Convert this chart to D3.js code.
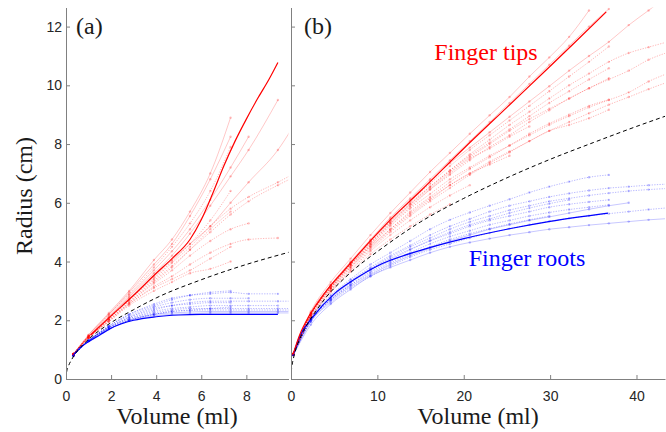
<!DOCTYPE html>
<html>
<head>
<meta charset="utf-8">
<script src="https://cdn.jsdelivr.net/npm/d3@7"></script>
<style>
  body { margin: 0; background: #fff; }
</style>
</head>
<body>
<script>
// ---- panel (a) data ----
var aGridX = [0.33, 1.0, 1.9, 2.8, 3.9, 4.7, 5.5, 6.4, 7.3, 8.1, 9.4, 10.6];

var aTipX = [1.1, 2, 3, 4, 4.7, 5.5, 6, 6.5, 7, 7.5, 8, 8.5, 9, 9.4];
var aTipY = [1.5, 2.15, 2.85, 3.6, 4.1, 4.75, 5.42, 6.3, 7.25, 8.1, 8.85, 9.55, 10.2, 10.78];

var aRootX = [0.33, 0.6, 1.0, 1.5, 2.0, 3.0, 4.0, 5.0, 6.0, 7.0, 8.0, 9.4];
var aRootY = [0.82, 1.05, 1.27, 1.5, 1.73, 2.0, 2.12, 2.18, 2.2, 2.2, 2.2, 2.2];

var aTipsFaint = [
  [0.85, 1.5, 2.25, 3.0, 4.05, 4.75, 5.7, 7.0, 8.9],
  [0.85, 1.5, 2.2, 2.95, 3.9, 4.6, 5.55, 6.8, 8.25],
  [0.85, 1.45, 2.2, 2.9, 3.8, 4.5, 5.3, 6.4, 7.9],
  [0.85, 1.45, 2.15, 2.85, 3.7, 4.35, 5.1, 6.1, 7.2, 8.25],
  [0.85, 1.45, 2.1, 2.8, 3.6, 4.2, 4.95, 5.9, 6.9, 7.8, 9.5],
  [0.85, 1.45, 2.1, 2.75, 3.5, 4.05, 4.6, 5.2, 6.0, 6.7, 7.8, 9.3],
  [0.85, 1.45, 2.05, 2.7, 3.4, 3.95, 4.5, 5.2, 5.8, 6.2, 6.7, 7.2],
  [0.85, 1.4, 2.05, 2.65, 3.35, 3.85, 4.4, 5.0, 5.6, 6.05, 6.6, 7.05],
  [0.85, 1.4, 2.0, 2.6, 3.25, 3.7, 4.2, 4.7, 5.1, 5.3],
  [0.85, 1.4, 2.0, 2.55, 3.15, 3.5, 3.9, 4.3, 4.6, 4.75, 4.8],
  [0.85, 1.4, 1.95, 2.55, 3.1, 3.4, 3.7, 4.1, 4.5],
  [0.85, 1.4, 2.0, 2.6, 3.3, 3.8, 4.4, 5.1, 5.7],
  [0.85, 1.45, 2.05, 2.7, 3.45, 4.0, 4.6, 5.4, 6.4],
  [0.85, 1.4, 1.95, 2.5, 3.0, 3.3, 3.6, 3.75, 4.0]
];
var aTipsStyle = ["solid", "solid", "dot", "solid", "solid", "solid", "dot",
                  "dot", "dot", "dot", "dot", "dot", "dot", "dot"];

var aRootsFaint = [
  [0.8, 1.3, 1.8, 2.2, 2.55, 2.75, 2.85, 2.9, 2.95, 2.9, 2.9],
  [0.8, 1.3, 1.8, 2.2, 2.5, 2.7, 2.85, 2.95, 3.0],
  [0.8, 1.3, 1.8, 2.15, 2.45, 2.6, 2.7, 2.75, 2.75, 2.75],
  [0.8, 1.3, 1.75, 2.1, 2.4, 2.5, 2.6, 2.65, 2.65, 2.65, 2.65, 2.65],
  [0.8, 1.3, 1.75, 2.05, 2.3, 2.4, 2.45, 2.5, 2.5, 2.5, 2.5],
  [0.8, 1.3, 1.75, 2.05, 2.25, 2.35, 2.4, 2.4, 2.4, 2.4, 2.4, 2.4],
  [0.8, 1.3, 1.7, 2.0, 2.2, 2.3, 2.33, 2.35, 2.35, 2.35, 2.35, 2.35],
  [0.8, 1.3, 1.7, 2.0, 2.2, 2.25, 2.28, 2.3, 2.3, 2.3, 2.3, 2.3],
  [0.8, 1.28, 1.7, 1.98, 2.15, 2.2, 2.22, 2.25, 2.25, 2.25, 2.25, 2.25],
  [0.8, 1.3, 1.72, 2.0, 2.2, 2.3, 2.35, 2.4, 2.45],
  [0.8, 1.3, 1.75, 2.1, 2.35, 2.5, 2.55, 2.6, 2.6]
];
var aRootsStyle = ["dot", "dot", "dot", "dot", "dot", "dot", "dot", "solid", "solid", "dot", "dot"];

// ---- panel (b) data ----
var bGridX = [0.25, 2.3, 4.6, 6.9, 9.2, 11.5, 13.8, 16.1, 18.4, 20.7, 23.0,
              25.3, 27.6, 29.9, 32.2, 34.5, 36.8, 39.1, 41.4, 44.5];

var bTipX = [0.25, 1, 2, 3, 4.5, 6, 7.5, 9.3, 11.5, 15, 20, 25, 30, 33, 36.5];
var bTipY = [0.85, 1.5, 2.1, 2.55, 3.15, 3.65, 4.15, 4.74, 5.42, 6.4, 7.85, 9.25, 10.65, 11.5, 12.5];

var bRootX = [0.25, 1, 2.5, 5, 7.5, 10, 15, 20, 25, 30, 36.7];
var bRootY = [0.82, 1.45, 2.1, 2.9, 3.42, 3.85, 4.38, 4.78, 5.1, 5.37, 5.65];

var bTipsFaint = [
  [0.85, 2.3, 3.3, 4.1, 4.9, 5.65, 6.35, 7.05, 7.7, 8.35, 8.98, 9.6, 10.3, 10.95, 11.65, 12.55],
  [0.85, 2.25, 3.2, 4.0, 4.75, 5.5, 6.15, 6.8, 7.45, 8.1, 8.75, 9.4, 10.05, 10.7, 11.35, 12.0, 12.6],
  [0.85, 2.25, 3.2, 3.97, 4.72, 5.45, 6.1, 6.75, 7.35, 7.88, 8.4, 8.93, 9.45, 9.97, 10.5, 11.0, 11.48, 12.05, 12.55, 13.25],
  [0.85, 2.2, 3.15, 3.9, 4.6, 5.3, 5.95, 6.55, 7.1, 7.65, 8.15, 8.65, 9.1, 9.55, 10.0, 10.4, 10.8, 11.1, 11.3, 11.55],
  [0.85, 2.2, 3.15, 3.95, 4.65, 5.35, 5.95, 6.5, 7.05, 7.55, 8.0, 8.45, 8.85, 9.2, 9.55, 9.9, 10.2, 10.5, 10.87, 11.2],
  [0.85, 2.2, 3.1, 3.9, 4.55, 5.2, 5.8, 6.3, 6.8, 7.2, 7.6, 7.95, 8.3, 8.65, 8.95, 9.25, 9.5, 9.76, 10.13, 10.5],
  [0.85, 2.2, 3.1, 3.85, 4.5, 5.1, 5.65, 6.15, 6.6, 7.0, 7.4, 7.75, 8.1, 8.45, 8.75, 9.05, 9.34, 9.6, 9.87, 10.2],
  [0.85, 2.25, 3.2, 3.95, 4.7, 5.4, 6.05, 6.65, 7.25, 7.8, 8.3, 8.8, 9.3, 9.8, 10.3, 10.8, 11.32],
  [0.85, 2.2, 3.15, 3.9, 4.65, 5.35, 6.0, 6.55, 7.1, 7.6, 8.05, 8.5, 8.95, 9.4, 9.8, 10.2, 10.58],
  [0.85, 2.2, 3.1, 3.9, 4.6, 5.3, 5.9, 6.45, 6.95, 7.45, 7.9, 8.3, 8.75, 9.15, 9.55, 9.9, 10.24],
  [0.85, 2.1, 3.0, 3.75, 4.4, 5.0, 5.55, 6.05, 6.5, 6.95, 7.35, 7.72, 8.1, 8.45, 8.65, 8.88, 9.17],
  [0.85, 2.15, 3.05, 3.8, 4.5, 5.1, 5.7, 6.2, 6.7, 7.15, 7.55, 7.95, 8.35, 8.7, 9.0, 9.3, 9.51],
  [0.85, 2.2, 3.1, 3.85, 4.55, 5.25, 5.85, 6.45, 7.0, 7.5, 7.85, 8.25, 8.6],
  [0.85, 2.15, 3.05, 3.8, 4.45, 5.05, 5.6, 6.1, 6.6, 7.0, 7.3, 7.6],
  [0.85, 2.05, 2.95, 3.65, 4.25, 4.75, 5.2, 5.6, 5.95],
  [0.85, 2.1, 3.0, 3.7, 4.35, 4.9, 5.4, 5.85, 6.25, 6.6]
];
var bTipsStyle = ["solid", "solid", "solid", "dot", "dot", "dot", "dot", "dot",
                  "dot", "dot", "dot", "dot", "dot", "dot", "dot", "dot"];

var bRootsFaint = [
  [0.82, 2.1, 2.85, 3.4, 3.9, 4.3, 4.7, 5.1, 5.42, 5.67, 5.9, 6.12, 6.35, 6.55, 6.72, 6.87, 6.95],
  [0.82, 2.05, 2.8, 3.35, 3.8, 4.2, 4.55, 4.9, 5.2, 5.45, 5.7, 5.9, 6.05, 6.2, 6.32, 6.42, 6.5, 6.55, 6.6, 6.65],
  [0.82, 2.05, 2.75, 3.3, 3.75, 4.15, 4.5, 4.8, 5.1, 5.35, 5.55, 5.75, 5.9, 6.05, 6.15, 6.25, 6.33, 6.4, 6.45, 6.5],
  [0.82, 2.0, 2.7, 3.25, 3.7, 4.05, 4.4, 4.7, 4.95, 5.2, 5.4, 5.55, 5.7, 5.85, 5.95, 6.03, 6.1],
  [0.82, 2.0, 2.7, 3.2, 3.65, 4.0, 4.3, 4.6, 4.85, 5.05, 5.25, 5.4, 5.55, 5.67, 5.77, 5.85, 5.93],
  [0.82, 1.95, 2.65, 3.15, 3.55, 3.9, 4.2, 4.45, 4.7, 4.9, 5.1, 5.25, 5.4, 5.52, 5.65, 5.78, 5.9, 6.0],
  [0.82, 1.95, 2.6, 3.1, 3.5, 3.85, 4.15, 4.4, 4.6, 4.8, 4.97, 5.12, 5.25, 5.37, 5.47, 5.56, 5.63, 5.7, 5.77, 5.85],
  [0.8, 1.85, 2.55, 3.05, 3.5, 3.8, 4.05, 4.3, 4.5, 4.65, 4.78, 4.9, 5.0, 5.1, 5.17, 5.24, 5.3, 5.36, 5.42, 5.48],
  [0.82, 2.0, 2.7, 3.2, 3.6, 3.95, 4.25, 4.5, 4.75, 4.95, 5.12, 5.28, 5.42, 5.55],
  [0.82, 2.05, 2.75, 3.3, 3.75, 4.1, 4.42, 4.72, 5.0, 5.25, 5.45, 5.65, 5.82, 5.97, 6.1]
];
var bRootsStyle = ["dot", "dot", "dot", "dot", "dot", "solid", "dot", "solid", "dot", "dot"];

// dashed reference curve (same in both panels)
var refX = [0, 0.02, 0.1, 0.25, 0.5, 1, 2, 3, 4, 6, 8, 10, 15, 20, 25, 30, 35, 40, 45];
var refY = [0, 0.2, 0.42, 0.66, 0.95, 1.35, 1.92, 2.36, 2.76, 3.38, 3.9, 4.34, 5.35, 6.15, 6.85, 7.48, 8.05, 8.6, 9.12];

var yTicks = [0, 2, 4, 6, 8, 10, 12];
var aXTicks = [0, 2, 4, 6, 8];
var bXTicks = [0, 10, 20, 30, 40];

// ---- drawing ----
var W = 666, H = 432;
var svg = d3.select("body").append("svg").attr("width", W).attr("height", H);

var yScale = d3.scaleLinear().domain([0, 12.65]).range([379, 7.5]);
var xA = d3.scaleLinear().domain([0, 9.87]).range([66, 288.5]);
var xB = d3.scaleLinear().domain([0, 43.3]).range([291, 665]);

function zip(xs, ys) {
  return ys.map(function(y, i) { return [xs[i], y]; });
}

function drawPanel(id, x, grid, tips, tipsStyle, roots, rootsStyle, tipX, tipY, rootX, rootY, xTicks, showY) {
  svg.append("clipPath").attr("id", id)
     .append("rect")
     .attr("x", x.range()[0]).attr("y", yScale.range()[1])
     .attr("width", x.range()[1] - x.range()[0])
     .attr("height", yScale.range()[0] - yScale.range()[1]);

  var g = svg.append("g").attr("clip-path", "url(#" + id + ")");

  var line = d3.line()
               .x(function(d) { return x(d[0]); })
               .y(function(d) { return yScale(d[1]); })
               .curve(d3.curveMonotoneX);

  function faint(series, styles, color) {
    series.forEach(function(ys, i) {
      var pts = zip(grid, ys);
      g.append("path").datum(pts)
       .attr("d", line)
       .attr("fill", "none")
       .attr("stroke", color)
       .attr("stroke-opacity", styles[i] == "dot" ? 0.28 : 0.22)
       .attr("stroke-width", 1)
       .attr("stroke-dasharray", styles[i] == "dot" ? "1.3,1.3" : null);
      g.selectAll(null)
       .data(pts)
       .enter().append("circle")
       .attr("cx", function(d) { return x(d[0]); })
       .attr("cy", function(d) { return yScale(d[1]); })
       .attr("r", 1.2)
       .attr("fill", color)
       .attr("fill-opacity", 0.25);
    });
  }

  faint(roots, rootsStyle, "#0000ff");
  faint(tips, tipsStyle, "#ff0000");

  g.append("path").datum(zip(rootX, rootY))
   .attr("d", line).attr("fill", "none")
   .attr("stroke", "#0000ff").attr("stroke-width", 1.2);

  g.append("path").datum(zip(tipX, tipY))
   .attr("d", line).attr("fill", "none")
   .attr("stroke", "#ff0000").attr("stroke-width", 1.2);

  g.append("path").datum(zip(refX, refY))
   .attr("d", line).attr("fill", "none")
   .attr("stroke", "#000").attr("stroke-width", 1)
   .attr("stroke-dasharray", "4,3");

  // axes, ticks pointing inward
  var yAxis = d3.axisLeft(yScale).tickValues(yTicks).tickSizeInner(-4).tickSizeOuter(0).tickPadding(4);
  if (!showY) yAxis.tickFormat("");
  svg.append("g")
     .attr("class", "axis")
     .attr("transform", "translate(" + x.range()[0] + ",0)")
     .call(yAxis);

  svg.append("g")
     .attr("class", "axis")
     .attr("transform", "translate(0," + yScale.range()[0] + ")")
     .call(d3.axisBottom(x).tickValues(xTicks).tickSizeInner(-4).tickSizeOuter(0).tickPadding(12));
}

drawPanel("clipA", xA, aGridX, aTipsFaint, aTipsStyle, aRootsFaint, aRootsStyle,
          aTipX, aTipY, aRootX, aRootY, aXTicks, true);
drawPanel("clipB", xB, bGridX, bTipsFaint, bTipsStyle, bRootsFaint, bRootsStyle,
          bTipX, bTipY, bRootX, bRootY, bXTicks, false);

svg.selectAll(".axis").attr("font-family", "Liberation Sans").attr("font-size", 14);
svg.selectAll(".axis .domain").attr("stroke", "#808080");
svg.selectAll(".axis .tick line").attr("stroke", "#808080");
svg.selectAll(".axis .tick text").attr("fill", "#262626");

// labels (serif, like the LaTeX text of the original)
function label(x, y, txt, color, anchor, transform) {
  var t = svg.append("text")
             .attr("font-family", "Times New Roman")
             .attr("font-size", 24)
             .attr("fill", color)
             .attr("text-anchor", anchor)
             .text(txt);
  if (transform) t.attr("transform", transform);
  else t.attr("x", x).attr("y", y);
  return t;
}

label(177, 424, "Volume (ml)", "#1a1a1a", "middle");
label(478, 424, "Volume (ml)", "#1a1a1a", "middle");
label(0, 0, "Radius (cm)", "#1a1a1a", "middle", "translate(32,196) rotate(-90)");
label(76, 34, "(a)", "#1a1a1a", "start");
label(304, 34, "(b)", "#1a1a1a", "start");
label(486, 60, "Finger tips", "#ff0000", "middle");
label(527, 266, "Finger roots", "#0000ff", "middle");
</script>
</body>
</html>
